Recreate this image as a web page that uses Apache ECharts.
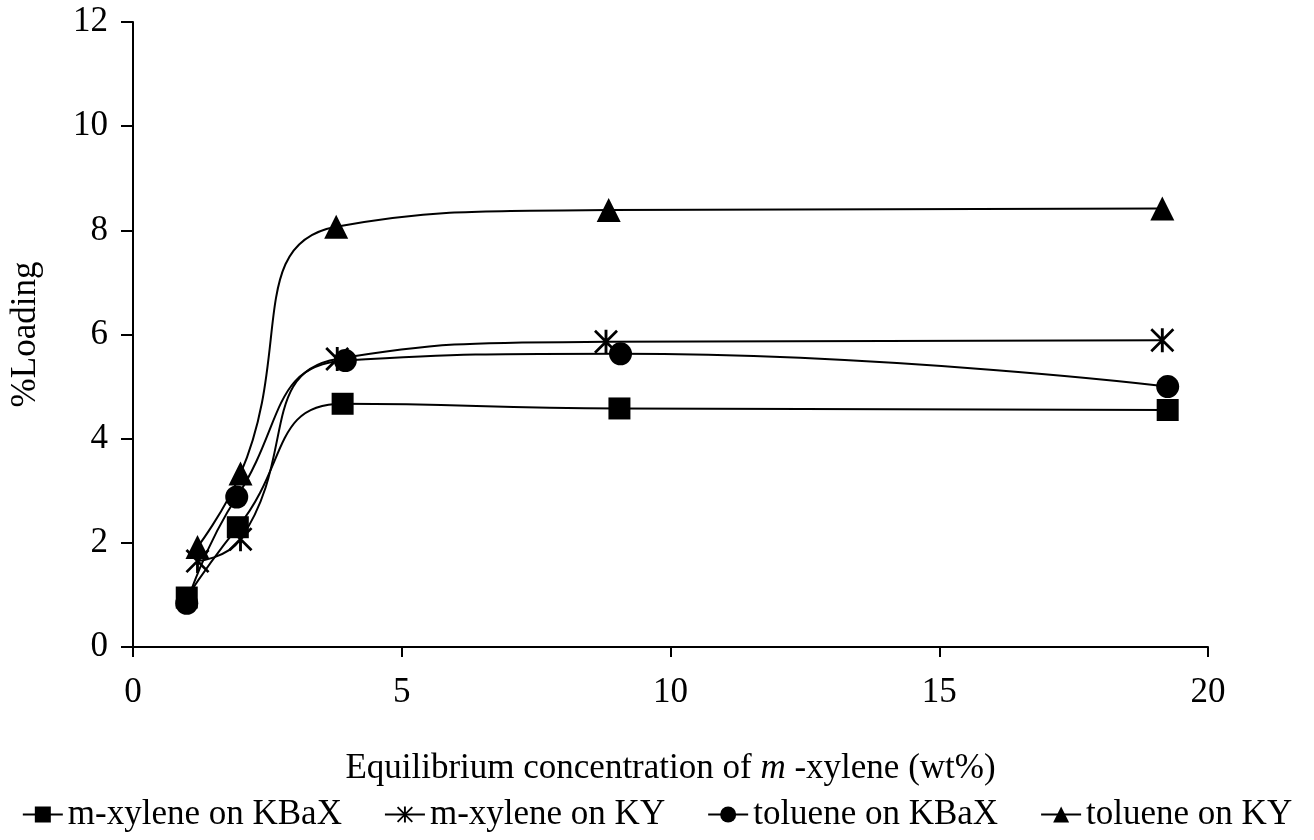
<!DOCTYPE html>
<html>
<head>
<meta charset="utf-8">
<script src="https://cdn.jsdelivr.net/npm/echarts@6/dist/echarts.min.js"></script>
<style>
  html, body { margin: 0; padding: 0; background: #fff; }
  #chart { width: 1314px; height: 840px; }
</style>
</head>
<body>
<div id="chart"></div>
<script>
// series names as in the legend
const seriesNames = ['m-xylene on KBaX', 'm-xylene on KY', 'toluene on KBaX', 'toluene on KY'];

// equilibrium concentration (wt%) for each series
const xMXyleneKBaX = [1.0, 1.95, 3.9, 9.05, 19.25];
const xMXyleneKY = [1.2, 2.0, 3.8, 8.8, 19.15];
const xTolueneKBaX = [1.0, 1.93, 3.95, 9.07, 19.25];
const xTolueneKY = [1.2, 2.0, 3.78, 8.85, 19.15];

// %Loading
const yMXyleneKBaX = [0.95, 2.3, 4.67, 4.58, 4.55];
const yMXyleneKY = [1.65, 2.07, 5.53, 5.86, 5.89];
const yTolueneKBaX = [0.84, 2.88, 5.5, 5.63, 5.0];
const yTolueneKY = [1.92, 3.33, 8.07, 8.39, 8.42];

const xTicks = [0, 5, 10, 15, 20];
const yTicks = [0, 2, 4, 6, 8, 10, 12];

const FONT = '"Liberation Serif", "DejaVu Serif", serif';
const FS = 35;

// asterisk made of three thin bars (vertical + two diagonals)
const asterisk = 'path://M4.4,0 L5.6,0 L5.6,10 L4.4,10 Z ' +
  'M0,0.8 L0.8,0 L10,9.2 L9.2,10 Z ' +
  'M9.2,0 L10,0.8 L0.8,10 L0,9.2 Z';

const pairs = (xs, ys) => xs.map((x, i) => [x, ys[i]]);

const chart = echarts.init(document.getElementById('chart'), null, { renderer: 'canvas' });

function lineSeries(name, data, symbol, size) {
  return {
    name: name,
    type: 'line',
    data: data,
    smooth: 0.5,
    symbol: symbol,
    symbolSize: size,
    showAllSymbol: true,
    lineStyle: { color: '#000', width: 2 },
    itemStyle: { color: '#000', borderWidth: 0 },
    emphasis: { disabled: true },
  };
}

const option = {
  backgroundColor: '#fff',
  animation: false,
  grid: {
    left: 133,
    right: 106,
    top: 22,
    bottom: 193,
    containLabel: false,
  },
  xAxis: {
    type: 'value',
    min: xTicks[0],
    max: xTicks[xTicks.length - 1],
    interval: 5,
    name: '{n|Equilibrium concentration of }{i|m}{n| -xylene (wt%)}',
    nameLocation: 'middle',
    nameGap: 104,
    nameTextStyle: {
      rich: {
        n: { fontFamily: FONT, fontSize: FS, color: '#000' },
        i: { fontFamily: FONT, fontSize: FS, color: '#000', fontStyle: 'italic' },
      },
    },
    axisLine: { show: true, onZero: false, lineStyle: { color: '#000', width: 2 } },
    axisTick: { show: true, inside: false, length: 10, lineStyle: { color: '#000', width: 2 } },
    axisLabel: { color: '#000', fontFamily: FONT, fontSize: FS, margin: 28 },
    splitLine: { show: false },
  },
  yAxis: {
    type: 'value',
    min: yTicks[0],
    max: yTicks[yTicks.length - 1],
    interval: 2,
    name: '%Loading',
    nameLocation: 'middle',
    nameGap: 90,
    nameRotate: 90,
    nameTextStyle: { fontFamily: FONT, fontSize: FS, color: '#000' },
    axisLine: { show: true, onZero: false, lineStyle: { color: '#000', width: 2 } },
    axisTick: { show: true, inside: false, length: 12, lineStyle: { color: '#000', width: 2 } },
    axisLabel: { color: '#000', fontFamily: FONT, fontSize: FS, margin: 25 },
    splitLine: { show: false },
  },
  legend: {
    bottom: 3,
    left: 'center',
    itemWidth: 40,
    itemHeight: 20,
    itemGap: 42,
    textStyle: { fontFamily: FONT, fontSize: FS, color: '#000' },
    data: seriesNames,
  },
  series: [
    lineSeries(seriesNames[0], pairs(xMXyleneKBaX, yMXyleneKBaX), 'rect', 22),
    lineSeries(seriesNames[1], pairs(xMXyleneKY, yMXyleneKY), asterisk, 24),
    lineSeries(seriesNames[2], pairs(xTolueneKBaX, yTolueneKBaX), 'circle', 23),
    lineSeries(seriesNames[3], pairs(xTolueneKY, yTolueneKY), 'triangle', 24),
  ],
};

chart.setOption(option);
</script>
</body>
</html>
